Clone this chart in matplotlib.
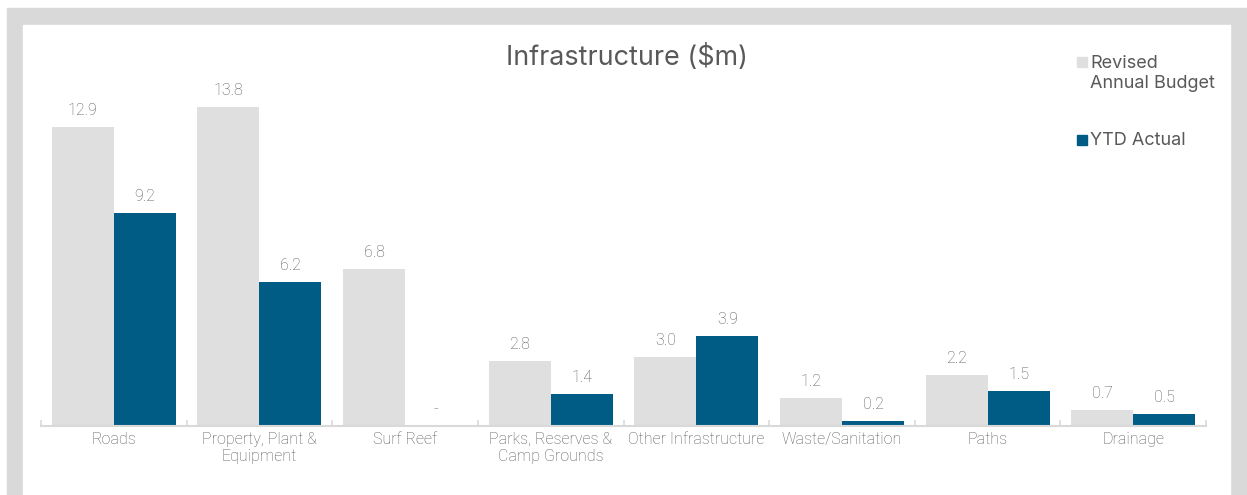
import matplotlib.pyplot as plt
from matplotlib.patches import Rectangle
import numpy as np

categories = ["Roads", "Property, Plant &\nEquipment", "Surf Reef",
              "Parks, Reserves &\nCamp Grounds", "Other Infrastructure",
              "Waste/Sanitation", "Paths", "Drainage"]
budget = [12.9, 13.8, 6.8, 2.8, 3.0, 1.2, 2.2, 0.7]
actual = [9.2, 6.2, 0.0, 1.4, 3.9, 0.2, 1.5, 0.5]
series_names = ["Revised\nAnnual Budget", "YTD Actual"]

budget_color = "#dfdfdf"
actual_color = "#005c85"
text_color = "#595959"
frame_color = "#d9d9d9"

W, H = 1247, 495
fig = plt.figure(figsize=(W / 100, H / 100), dpi=100)

# grey frame around the white panel
fig.patches.append(Rectangle((7 / W, 0), (W - 7) / W, (H - 8) / H,
                             transform=fig.transFigure, color=frame_color, zorder=-10))
fig.patches.append(Rectangle((23 / W, 0), (1230 - 23) / W, (H - 25) / H,
                             transform=fig.transFigure, color="white", zorder=-9))

ax = fig.add_axes([41 / W, 69 / H, 1165 / W, 370.4 / H])
ax.patch.set_alpha(0)

x = np.arange(len(categories))
w = 0.426
b1 = ax.bar(x - w / 2, budget, w, color=budget_color, label=series_names[0])
b2 = ax.bar(x + w / 2, actual, w, color=actual_color, label=series_names[1])

lab_font = dict(family=["Roboto", "DejaVu Sans"], fontweight="light",
                fontsize=11.5, color=text_color)
for bars, vals in ((b1, budget), (b2, actual)):
    for r, v in zip(bars, vals):
        txt = "-" if v == 0 else f"{v:.1f}"
        ax.annotate(txt, (r.get_x() + r.get_width() / 2, v),
                    xytext=(0, 6.5), textcoords="offset points",
                    ha="center", va="bottom", **lab_font)

ax.set_xlim(-0.5, len(categories) - 0.5)
ax.set_ylim(0, 16)
ax.set_yticks([])
ax.set_xticks(x)
ax.set_xticklabels(categories, linespacing=1.2, **lab_font)
ax.set_xticks(np.arange(len(categories) + 1) - 0.5, minor=True)
ax.tick_params(axis="x", which="major", length=0, pad=4)
ax.tick_params(axis="x", which="minor", direction="in", length=4,
               color=frame_color, width=1.2)
for s in ["left", "right", "top"]:
    ax.spines[s].set_visible(False)
ax.spines["bottom"].set_color(frame_color)
ax.spines["bottom"].set_linewidth(1.5)

fig.text(627 / W, 1 - 57.5 / H, "Infrastructure ($m)", ha="center", va="center",
         fontsize=19.4, color=text_color, family=["Inter", "DejaVu Sans"])

# legend
leg_font = dict(fontsize=13, color=text_color, family=["Inter", "DejaVu Sans"])
fig.patches.append(Rectangle((1077 / W, 1 - 67 / H), 10 / W, 10 / H,
                             transform=fig.transFigure, color=budget_color))
fig.text(1090 / W, 1 - 55 / H, series_names[0], ha="left", va="top",
         linespacing=1.2, **leg_font)
fig.patches.append(Rectangle((1077 / W, 1 - 145 / H), 10 / W, 10 / H,
                             transform=fig.transFigure, color=actual_color))
fig.text(1090 / W, 1 - 140.5 / H, series_names[1], ha="left", va="center", **leg_font)

fig.savefig("out.png", dpi=100, facecolor="white")
